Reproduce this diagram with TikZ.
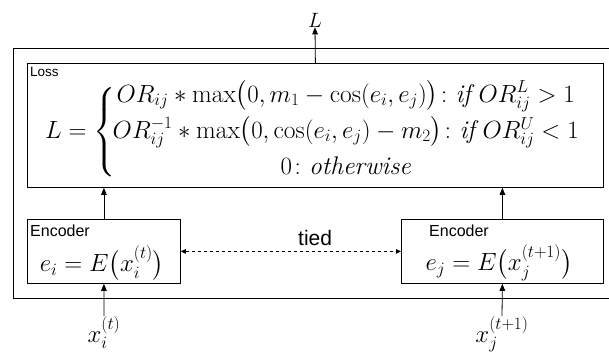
\documentclass[tikz,border=0pt]{standalone}
\usepackage{amsmath}
\usepackage{fontspec}
\setsansfont{Liberation Sans}
\usetikzlibrary{arrows.meta,positioning}
\tikzset{
  blk/.style     = {draw,line width=0.8pt,inner sep=0pt,anchor=north west},
  tag/.style     = {font=\sffamily\fontsize{13.5}{14}\selectfont,inner sep=0pt,
                    anchor=north west},
  enctag/.style  = {tag,font=\sffamily\fontsize{16}{17}\selectfont},
  eqn/.style     = {font=\fontsize{22}{26}\selectfont,inner sep=0pt},
  losseqn/.style = {font=\fontsize{25.5}{30}\selectfont,inner sep=0pt},
  bigeqn/.style  = {font=\fontsize{24}{28}\selectfont,inner sep=0pt},
  sig/.style     = {-{Triangle[length=7pt,width=5.5pt]},line width=0.8pt},
  tiedarr/.style = {{Triangle[length=5pt,width=4.5pt]}-{Triangle[length=5pt,width=4.5pt]},
                    dashed,line width=0.8pt},
}

\begin{document}
\begin{tikzpicture}[x=1pt,y=-1pt]
  \useasboundingbox (0,0) rectangle (609,351);
  % frame and blocks
  \node[blk,minimum width=602pt,minimum height=250pt] (outer) at (13,48) {};
  \node[blk,minimum width=576pt,minimum height=124pt] (loss) at (27,63) {};
  \node[blk,minimum width=153pt,minimum height=64pt] (enci) at (27,219) {};
  \node[blk,minimum width=202pt,minimum height=64pt] (encj) at (401,219) {};

  % block titles
  \node[tag] (losstag) at ([shift={(3pt,-4pt)}]loss.north west) {Loss};
  \node[enctag] (encitag) at ([shift={(3pt,-6pt)}]enci.north west) {Encoder};
  \node[enctag] (encjtag) at ([shift={(28pt,-6pt)}]encj.north west) {Encoder};

  % formulas (brace kept a bit shorter than the three rows)
  \node[losseqn] (losseq) at (312,132) {$L=\left\{\rule[-40pt]{0pt}{90pt}\right.\!\!
    \begin{array}{@{}c@{}}
      OR_{ij}*\max\bigl(0,m_1-\cos(e_i,e_j)\bigr)\colon \mathit{if}\ OR_{ij}^{L}>1\\[6pt]
      OR_{ij}^{-1}*\max\bigl(0,\cos(e_i,e_j)-m_2\bigr)\colon \mathit{if}\ OR_{ij}^{U}<1\\[6pt]
      0\colon \mathit{otherwise}
    \end{array}$};
  \node[bigeqn] (encieq) at (102,263) {$e_i=E\bigl(x_i^{(t)}\bigr)$};
  \node[bigeqn] (encjeq) at (499,263) {$e_j=E\bigl(x_j^{(t+1)}\bigr)$};

  % inputs and output
  \node[eqn] (lout) at (315,20) {$L$};
  \node[bigeqn,anchor=north] (xi) at (104,316) {$x_i^{(t)}$};
  \node[bigeqn,anchor=north] (xj) at (502,316) {$x_j^{(t+1)}$};

  \draw[sig] (loss.north) -- (lout.south);
  \draw[sig] (enci.north) -- (enci.north |- loss.south);
  \draw[sig] (encj.north) -- (encj.north |- loss.south);
  \draw[sig] (xi.north) -- (enci.south);
  \draw[sig] (xj.north) -- (encj.south);

  % shared weights
  \draw[tiedarr] (enci.east) -- node[pos=0.61,above=2pt,
     font=\sffamily\fontsize{21}{23}\selectfont] (tiedlbl) {tied} (encj.west);
\end{tikzpicture}
\end{document}
